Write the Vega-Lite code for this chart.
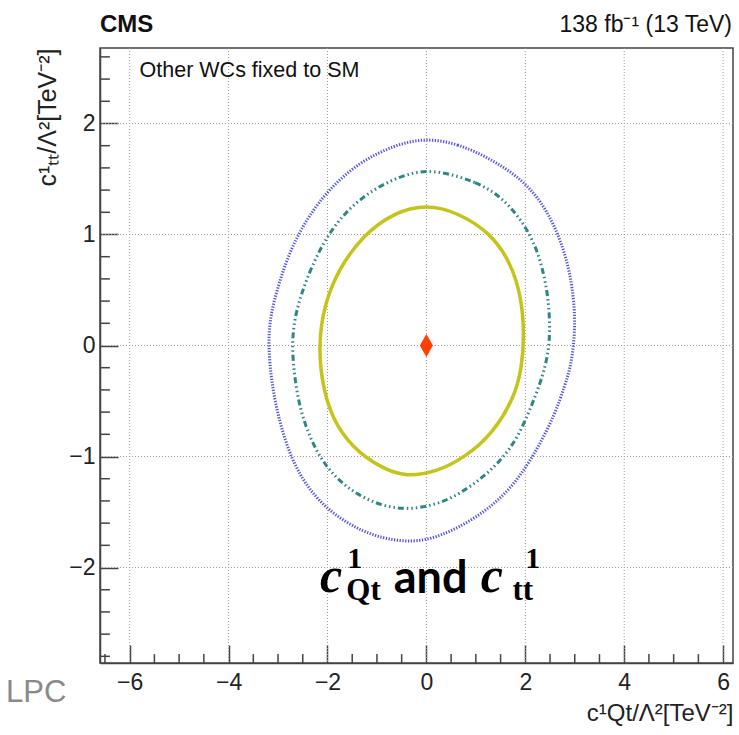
{
  "$schema": "https://vega.github.io/schema/vega-lite/v6.json",
  "width": 633,
  "height": 615,
  "autosize": "none",
  "padding": {"left": 100, "top": 48, "right": 6, "bottom": 72},
  "background": "white",
  "config": {
    "font": "Liberation Sans",
    "view": {"stroke": "#444", "strokeWidth": 1.5},
    "axis": {
      "domainColor": "#444", "domainWidth": 1.5,
      "tickColor": "#444", "tickWidth": 1.5,
      "labelColor": "#222", "labelFontSize": 23, "labelFont": "Liberation Sans",
      "titleColor": "#222", "titleFontWeight": "normal", "titleFontSize": 24, "titleFont": "Liberation Sans",
      "grid": false,
      "labelOverlap": false, "labelFlush": false
    }
  },
  "datasets": {
    "gridx": [{"v": -6}, {"v": -4}, {"v": -2}, {"v": 0}, {"v": 2}, {"v": 4}, {"v": 6}],
    "gridy": [{"v": -2}, {"v": -1}, {"v": 0}, {"v": 1}, {"v": 2}],
    "minx": [{"v": -6.5}, {"v": -5.5}, {"v": -5}, {"v": -4.5}, {"v": -3.5}, {"v": -3}, {"v": -2.5}, {"v": -1.5}, {"v": -1}, {"v": -0.5}, {"v": 0.5}, {"v": 1}, {"v": 1.5}, {"v": 2.5}, {"v": 3}, {"v": 3.5}, {"v": 4.5}, {"v": 5}, {"v": 5.5}],
    "miny": [{"v": -2.8}, {"v": -2.6}, {"v": -2.4}, {"v": -2.2}, {"v": -1.8}, {"v": -1.6}, {"v": -1.4}, {"v": -1.2}, {"v": -0.8}, {"v": -0.6}, {"v": -0.4}, {"v": -0.2}, {"v": 0.2}, {"v": 0.4}, {"v": 0.6}, {"v": 0.8}, {"v": 1.2}, {"v": 1.4}, {"v": 1.6}, {"v": 1.8}, {"v": 2.2}, {"v": 2.4}, {"v": 2.6}],
    "c68": [
      {"x": 0.0, "y": 1.27}, {"x": 0.63, "y": 1.2}, {"x": 1.31, "y": 1.01}, {"x": 1.71, "y": 0.74},
      {"x": 1.92, "y": 0.44}, {"x": 1.98, "y": 0.1}, {"x": 1.93, "y": -0.2}, {"x": 1.78, "y": -0.47},
      {"x": 1.33, "y": -0.8}, {"x": 0.77, "y": -1.01}, {"x": 0.2, "y": -1.14}, {"x": -0.41, "y": -1.18},
      {"x": -0.82, "y": -1.12}, {"x": -1.35, "y": -0.98}, {"x": -1.82, "y": -0.74}, {"x": -2.09, "y": -0.41},
      {"x": -2.19, "y": 0.0}, {"x": -2.06, "y": 0.38}, {"x": -1.77, "y": 0.69}, {"x": -1.29, "y": 0.99},
      {"x": -0.65, "y": 1.2}
    ],
    "c95": [
      {"x": 0.23, "y": 1.58}, {"x": 1.04, "y": 1.47}, {"x": 1.51, "y": 1.34}, {"x": 1.91, "y": 1.14},
      {"x": 2.19, "y": 0.92}, {"x": 2.36, "y": 0.68}, {"x": 2.46, "y": 0.44}, {"x": 2.5, "y": 0.2},
      {"x": 2.48, "y": -0.05}, {"x": 2.33, "y": -0.31}, {"x": 2.12, "y": -0.55}, {"x": 1.88, "y": -0.8},
      {"x": 1.58, "y": -1.0}, {"x": 1.17, "y": -1.18}, {"x": 0.7, "y": -1.33}, {"x": 0.23, "y": -1.43},
      {"x": -0.34, "y": -1.48}, {"x": -0.88, "y": -1.45}, {"x": -1.42, "y": -1.34}, {"x": -1.84, "y": -1.19},
      {"x": -2.17, "y": -1.0}, {"x": -2.42, "y": -0.76}, {"x": -2.58, "y": -0.52}, {"x": -2.67, "y": -0.27},
      {"x": -2.72, "y": 0.0}, {"x": -2.67, "y": 0.24}, {"x": -2.52, "y": 0.48}, {"x": -2.31, "y": 0.72},
      {"x": -2.04, "y": 0.96}, {"x": -1.72, "y": 1.16}, {"x": -1.29, "y": 1.34}, {"x": -0.81, "y": 1.47},
      {"x": -0.3, "y": 1.56}
    ],
    "c99": [
      {"x": -0.04, "y": 1.87}, {"x": 0.63, "y": 1.82}, {"x": 1.31, "y": 1.68}, {"x": 1.96, "y": 1.49},
      {"x": 2.38, "y": 1.26}, {"x": 2.66, "y": 1.01}, {"x": 2.84, "y": 0.77}, {"x": 2.95, "y": 0.53},
      {"x": 3.01, "y": 0.26}, {"x": 2.98, "y": 0.0}, {"x": 2.91, "y": -0.2}, {"x": 2.8, "y": -0.36},
      {"x": 2.6, "y": -0.62}, {"x": 2.26, "y": -0.92}, {"x": 1.84, "y": -1.22}, {"x": 1.31, "y": -1.46},
      {"x": 0.63, "y": -1.65}, {"x": -0.04, "y": -1.77}, {"x": -0.68, "y": -1.76}, {"x": -1.29, "y": -1.68},
      {"x": -1.89, "y": -1.52}, {"x": -2.36, "y": -1.31}, {"x": -2.72, "y": -1.04}, {"x": -2.98, "y": -0.68},
      {"x": -3.13, "y": -0.34}, {"x": -3.2, "y": 0.0}, {"x": -3.16, "y": 0.26}, {"x": -3.02, "y": 0.5},
      {"x": -2.85, "y": 0.74}, {"x": -2.64, "y": 0.96}, {"x": -2.37, "y": 1.17}, {"x": -1.97, "y": 1.41},
      {"x": -1.36, "y": 1.65}, {"x": -0.68, "y": 1.8}
    ],
    "bestfit": [{"x": 0, "y": 0}],
    "labels": [
      {"t": "CMS"}, {"t": "138 fb⁻¹ (13 TeV)"}, {"t": "Other WCs fixed to SM"}, {"t": "LPC"},
      {"t": "c"}, {"t": "1"}, {"t": "Qt"}, {"t": "and"}, {"t": "tt"}
    ]
  },
  "layer": [
    {
      "data": {"name": "gridx"},
      "mark": {"type": "rule", "color": "#9a9a9a", "strokeWidth": 1, "strokeDash": [1, 2]},
      "encoding": {
        "x": {
          "field": "v", "type": "quantitative",
          "scale": {"domain": [-6.6, 6.2], "nice": false, "zero": false},
          "axis": {
            "orient": "bottom",
            "title": "c¹Qt/Λ²[TeV⁻²]",
            "titleAnchor": "end", "titlePadding": 7,
            "values": [-6, -4, -2, 0, 2, 4, 6],
            "format": ".0f",
            "tickSize": -18,
            "labelPadding": 26
          }
        }
      }
    },
    {
      "data": {"name": "gridy"},
      "mark": {"type": "rule", "color": "#9a9a9a", "strokeWidth": 1, "strokeDash": [1, 2]},
      "encoding": {
        "y": {
          "field": "v", "type": "quantitative",
          "scale": {"domain": [-2.86, 2.68], "nice": false, "zero": false},
          "axis": {
            "orient": "left",
            "title": "c¹ₜₜ/Λ²[TeV⁻²]",
            "titleFontSize": 25,
            "titleAnchor": "end", "titlePadding": 8,
            "values": [-2, -1, 0, 1, 2],
            "format": ".0f",
            "tickSize": -18,
            "labelPadding": 23
          }
        }
      }
    },
    {
      "data": {"name": "minx"},
      "mark": {"type": "rule", "color": "#444", "strokeWidth": 1.5},
      "encoding": {
        "x": {"field": "v", "type": "quantitative"},
        "y": {"datum": -2.86},
        "y2": {"datum": -2.78}
      }
    },
    {
      "data": {"name": "miny"},
      "mark": {"type": "rule", "color": "#444", "strokeWidth": 1.5},
      "encoding": {
        "y": {"field": "v", "type": "quantitative"},
        "x": {"datum": -6.6},
        "x2": {"datum": -6.4}
      }
    },
    {
      "data": {"name": "c99"},
      "mark": {"type": "line", "interpolate": "basis-closed", "strokeWidth": 3, "color": "#5252e0", "strokeDash": [1.3, 1.5]},
      "encoding": {
        "x": {"field": "x", "type": "quantitative"},
        "y": {"field": "y", "type": "quantitative"},
        "order": {"value": null}
      }
    },
    {
      "data": {"name": "c95"},
      "mark": {"type": "line", "interpolate": "basis-closed", "strokeWidth": 3, "color": "#2f8585", "strokeDash": [6, 3, 1.5, 3, 1.5, 3, 1.5, 3]},
      "encoding": {
        "x": {"field": "x", "type": "quantitative"},
        "y": {"field": "y", "type": "quantitative"},
        "order": {"value": null}
      }
    },
    {
      "data": {"name": "c68"},
      "mark": {"type": "line", "interpolate": "basis-closed", "strokeWidth": 3.5, "color": "#c4c41a"},
      "encoding": {
        "x": {"field": "x", "type": "quantitative"},
        "y": {"field": "y", "type": "quantitative"},
        "order": {"value": null}
      }
    },
    {
      "data": {"name": "bestfit"},
      "mark": {"type": "point", "filled": true, "shape": "M0,-1L0.57,0L0,1L-0.57,0Z", "size": 529, "color": "#ff4000", "opacity": 1},
      "encoding": {
        "x": {"field": "x", "type": "quantitative"},
        "y": {"field": "y", "type": "quantitative"}
      }
    },
    {
      "data": {"name": "labels"},
      "transform": [{"filter": "datum.t == 'CMS'"}],
      "mark": {"type": "text", "align": "left", "baseline": "alphabetic", "fontSize": 24, "fontWeight": "bold", "color": "#111", "clip": false},
      "encoding": {"x": {"datum": -6.6}, "y": {"datum": 2.82}, "text": {"field": "t"}}
    },
    {
      "data": {"name": "labels"},
      "transform": [{"filter": "datum.t == '138 fb⁻¹ (13 TeV)'"}],
      "mark": {"type": "text", "align": "right", "baseline": "alphabetic", "fontSize": 23, "color": "#111", "clip": false},
      "encoding": {"x": {"datum": 6.18}, "y": {"datum": 2.82}, "text": {"field": "t"}}
    },
    {
      "data": {"name": "labels"},
      "transform": [{"filter": "datum.t == 'Other WCs fixed to SM'"}],
      "mark": {"type": "text", "align": "left", "baseline": "alphabetic", "fontSize": 21.5, "color": "#111"},
      "encoding": {"x": {"datum": -5.8}, "y": {"datum": 2.42}, "text": {"field": "t"}}
    },
    {
      "data": {"name": "labels"},
      "transform": [{"filter": "datum.t == 'LPC'"}],
      "mark": {"type": "text", "align": "left", "baseline": "alphabetic", "fontSize": 31, "color": "#8a8a8a", "clip": false},
      "encoding": {"x": {"datum": -8.5}, "y": {"datum": -3.21}, "text": {"field": "t"}}
    },
    {
      "data": {"name": "labels"},
      "transform": [{"filter": "datum.t == 'c'"}],
      "mark": {"type": "text", "align": "left", "baseline": "alphabetic", "fontSize": 50, "font": "Liberation Serif", "fontWeight": "bold", "fontStyle": "italic", "color": "#000"},
      "encoding": {"x": {"datum": -2.15}, "y": {"datum": -2.22}, "text": {"field": "t"}}
    },
    {
      "data": {"name": "labels"},
      "transform": [{"filter": "datum.t == '1'"}],
      "mark": {"type": "text", "align": "left", "baseline": "alphabetic", "fontSize": 30, "font": "Liberation Serif", "fontWeight": "bold", "color": "#000"},
      "encoding": {"x": {"datum": -1.6}, "y": {"datum": -2.0}, "text": {"field": "t"}}
    },
    {
      "data": {"name": "labels"},
      "transform": [{"filter": "datum.t == 'Qt'"}],
      "mark": {"type": "text", "align": "left", "baseline": "alphabetic", "fontSize": 31, "font": "Liberation Serif", "fontWeight": "bold", "color": "#000"},
      "encoding": {"x": {"datum": -1.62}, "y": {"datum": -2.29}, "text": {"field": "t"}}
    },
    {
      "data": {"name": "labels"},
      "transform": [{"filter": "datum.t == 'and'"}],
      "mark": {"type": "text", "align": "left", "baseline": "alphabetic", "fontSize": 45, "font": "Lato", "fontWeight": "bold", "color": "#000"},
      "encoding": {"x": {"datum": -0.66}, "y": {"datum": -2.23}, "text": {"field": "t"}}
    },
    {
      "data": {"name": "labels"},
      "transform": [{"filter": "datum.t == 'c'"}],
      "mark": {"type": "text", "align": "left", "baseline": "alphabetic", "fontSize": 50, "font": "Liberation Serif", "fontWeight": "bold", "fontStyle": "italic", "color": "#000"},
      "encoding": {"x": {"datum": 1.1}, "y": {"datum": -2.22}, "text": {"field": "t"}}
    },
    {
      "data": {"name": "labels"},
      "transform": [{"filter": "datum.t == '1'"}],
      "mark": {"type": "text", "align": "left", "baseline": "alphabetic", "fontSize": 30, "font": "Liberation Serif", "fontWeight": "bold", "color": "#000"},
      "encoding": {"x": {"datum": 2.0}, "y": {"datum": -2.0}, "text": {"field": "t"}}
    },
    {
      "data": {"name": "labels"},
      "transform": [{"filter": "datum.t == 'tt'"}],
      "mark": {"type": "text", "align": "left", "baseline": "alphabetic", "fontSize": 31, "font": "Liberation Serif", "fontWeight": "bold", "color": "#000"},
      "encoding": {"x": {"datum": 1.74}, "y": {"datum": -2.29}, "text": {"field": "t"}}
    }
  ]
}
